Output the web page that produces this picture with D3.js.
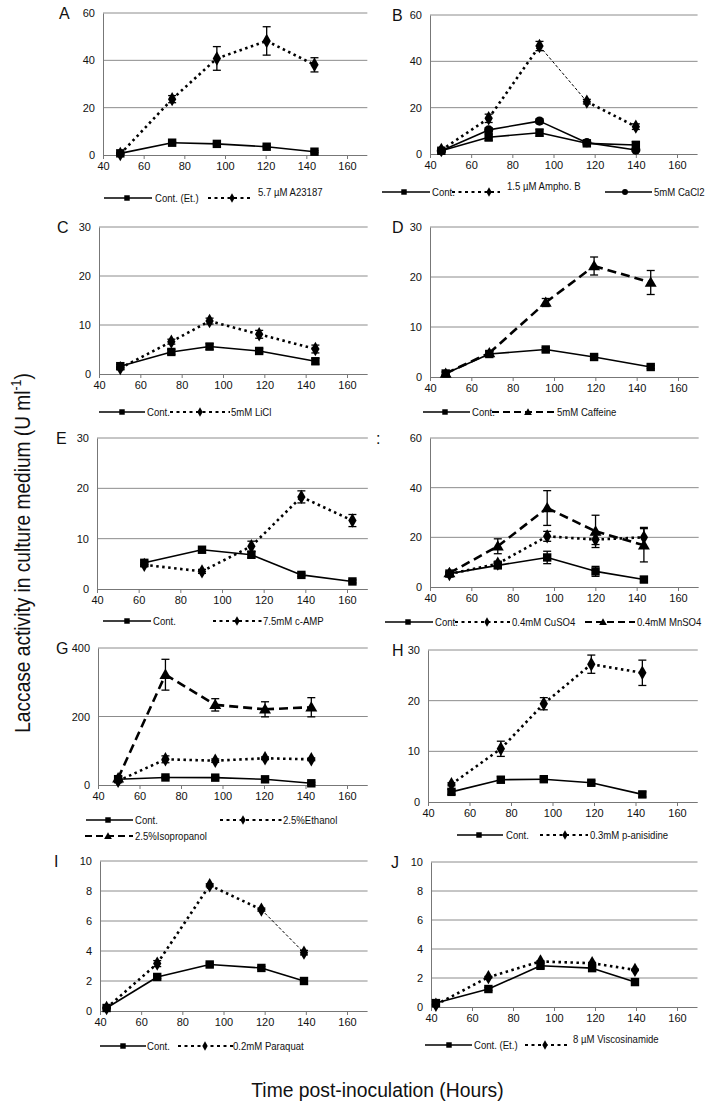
<!DOCTYPE html>
<html><head><meta charset="utf-8">
<script src="https://cdn.jsdelivr.net/npm/d3@7"></script>
<style>body{margin:0;background:#fff} svg{display:block}</style>
</head><body><svg id="c" width="713" height="1112"></svg>
<script>
// ---------- DATA ----------
const xTicks = [40, 60, 80, 100, 120, 140, 160];
const yTicks60 = [0, 20, 40, 60];
const yTicks30 = [0, 10, 20, 30];
const yTicks400 = [0, 200, 400];
const yTicks10 = [0, 2, 4, 6, 8, 10];

const hoursA = [48.5, 74, 96, 120.5, 144];
const A_cont = [0.7, 5.2, 4.7, 3.5, 1.4];
const A_cont_err = [0.3, 0.5, 0.5, 0.5, 0.4];
const A_a23187 = [0.4, 23.6, 40.8, 48.2, 38.1];
const A_a23187_err = [0.3, 1.5, 5, 6, 3];

const hoursB = [45.5, 68.5, 93.2, 116.2, 140];
const B_cont = [1.4, 7.2, 9.2, 4.6, 3.9];
const B_cont_err = [0.5, 1.5, 1.5, 1, 1.5];
const B_ampho = [1.7, 15.4, 46.6, 22.6, 11.8];
const B_ampho_err = [0.5, 1.8, 2, 1, 1.2];
const B_cacl2 = [1.4, 10.4, 14.2, 4.9, 1.7];
const B_cacl2_err = [0.5, 1, 1, 1, 0.5];

const hoursC = [50.3, 75, 93.5, 117.5, 144.7];
const C_cont = [1.6, 4.5, 5.6, 4.7, 2.6];
const C_cont_err = [0.3, 0.5, 0.6, 0.5, 0.6];
const C_licl = [1.2, 6.6, 10.8, 8.1, 5.1];
const C_licl_err = [0.3, 0.5, 0.6, 0.8, 0.8];

const hoursD = [47.6, 68.7, 96, 119.4, 146.8];
const D_cont = [0.7, 4.6, 5.5, 4.0, 2.0];
const D_cont_err = [0.3, 0.4, 0.4, 0.4, 0.3];
const D_caffeine = [0.7, 4.8, 14.9, 22.2, 18.9];
const D_caffeine_err = [0.3, 0.4, 0.8, 1.8, 2.4];

const hoursE = [62.7, 90.4, 114.1, 138.1, 162.6];
const E_cont = [5.2, 7.8, 6.8, 2.8, 1.5];
const E_cont_err = [0.4, 0.4, 0.6, 0.3, 0.3];
const E_camp = [4.8, 3.5, 8.5, 18.3, 13.6];
const E_camp_err = [0.4, 0.4, 1.0, 1.2, 1.2];

const hoursF = [49.4, 72.8, 96.7, 120.1, 143.5];
const F_cont = [5.4, 8.7, 11.9, 6.3, 3.0];
const F_cont_err = [0.6, 1, 2.5, 2, 1];
const F_cuso4 = [5.2, 9.4, 20.4, 19.1, 20.0];
const F_cuso4_err = [0.5, 1, 2, 2, 4];
const F_mnso4 = [5.6, 16.4, 31.8, 22.4, 16.8];
const F_mnso4_err = [0.5, 3, 7, 6.5, 6.7];

const hoursG = [49.7, 72.5, 96.5, 120.5, 142.8];
const G_cont = [17, 22, 21.5, 16.6, 5];
const G_cont_err = [3, 3, 3, 3, 3];
const G_ethanol = [12, 75, 71, 78, 75];
const G_ethanol_err = [3, 10, 5, 4, 4];
const G_isoprop = [20, 322, 234, 221, 227];
const G_isoprop_err = [5, 45, 18, 22, 28];

const hoursH = [51.3, 75.1, 95.8, 118.7, 143.3];
const H_cont = [2.0, 4.4, 4.5, 3.8, 1.5];
const H_cont_err = [0.5, 0.6, 0.4, 0.4, 0.5];
const H_anis = [3.5, 10.5, 19.4, 27.2, 25.5];
const H_anis_err = [0.3, 1.5, 1.2, 1.8, 2.5];

const hoursI = [43.2, 67.8, 93.3, 118.4, 139.1];
const I_cont = [0.2, 2.27, 3.1, 2.87, 2.0];
const I_cont_err = [0.05, 0.1, 0.1, 0.1, 0.05];
const I_paraquat = [0.2, 3.16, 8.38, 6.76, 3.89];
const I_paraquat_err = [0.05, 0.2, 0.1, 0.1, 0.15];

const hoursJ = [42.4, 68, 93.4, 118.6, 139.5];
const J_cont = [0.27, 1.24, 2.84, 2.68, 1.72];
const J_cont_err = [0.1, 0.1, 0.15, 0.15, 0.15];
const J_visco = [0.16, 2.06, 3.14, 3.02, 2.56];
const J_visco_err = [0.05, 0.05, 0.05, 0.05, 0.05];

// ---------- LAYOUT ----------
const panels = [
 {letter:"A", lx:59, x0:103, x160:347, yTop:13, yBot:155, yMax:60, ticks:yTicks60, hours:hoursA,
  series:[{v:A_cont,e:A_cont_err,line:"solid",m:"square"},{v:A_a23187,e:A_a23187_err,line:"dotted",m:"diamond"}],
  legend:[{y:198,x1:104,x2:152,mx:127,tx:155,line:"solid",m:"square",t:"Cont. (Et.)"},
          {y:198,x1:208,x2:250,mx:232,tx:258,dy:-6,line:"dotted",m:"diamond",t:"5.7 \u00B5M A23187"}]},
 {letter:"B", lx:392, x0:430, x160:677, yTop:15, yBot:154, yMax:60, ticks:yTicks60, hours:hoursB,
  series:[{v:B_cont,e:B_cont_err,line:"solid",m:"square"},{v:B_cacl2,e:B_cacl2_err,line:"solid",m:"circle"},
          {v:B_ampho,e:B_ampho_err,line:"dotted",m:"diamond",thin:[2]}],
  legend:[{y:192,x1:382,x2:430,mx:404,tx:432,line:"solid",m:"square",t:"Cont."},
          {y:192,x1:452,x2:500,mx:489,tx:507,dy:-6,line:"dotted",m:"diamond",t:"1.5 \u00B5M Ampho. B"},
          {y:192,x1:605,x2:652,mx:625,tx:654,line:"solid",m:"circle",t:"5mM CaCl2"}]},
 {letter:"C", lx:57, x0:99, x160:347, yTop:227, yBot:374, yMax:30, ticks:yTicks30, hours:hoursC,
  series:[{v:C_cont,e:C_cont_err,line:"solid",m:"square"},{v:C_licl,e:C_licl_err,line:"dotted",m:"diamond"}],
  legend:[{y:412,x1:99,x2:145,mx:122,tx:147,line:"solid",m:"square",t:"Cont."},
          {y:412,x1:170,x2:230,mx:200,tx:231,line:"dotted",m:"diamond",t:"5mM LiCl"}]},
 {letter:"D", lx:392, x0:430, x160:678, yTop:227, yBot:377, yMax:30, ticks:yTicks30, hours:hoursD,
  series:[{v:D_cont,e:D_cont_err,line:"solid",m:"square"},{v:D_caffeine,e:D_caffeine_err,line:"dashed",m:"triangle"}],
  legend:[{y:412,x1:423,x2:470,mx:445,tx:472,line:"solid",m:"square",t:"Cont."},
          {y:412,x1:492,x2:555,mx:528,tx:557,line:"dashed",m:"triangle",t:"5mM Caffeine"}]},
 {letter:"E", lx:56, x0:97, x160:347, yTop:438, yBot:589, yMax:30, ticks:yTicks30, hours:hoursE,
  series:[{v:E_cont,e:E_cont_err,line:"solid",m:"square"},{v:E_camp,e:E_camp_err,line:"dotted",m:"diamond"}],
  legend:[{y:621,x1:103,x2:151,mx:127,tx:153,line:"solid",m:"square",t:"Cont."},
          {y:621,x1:213,x2:262,mx:237,tx:263,line:"dotted",m:"diamond",t:"7.5mM c-AMP"}]},
 {letter:":", lx:376, x0:430, x160:678, yTop:438, yBot:587, yMax:60, ticks:yTicks60, hours:hoursF,
  series:[{v:F_cont,e:F_cont_err,line:"solid",m:"square"},{v:F_cuso4,e:F_cuso4_err,line:"dotted",m:"diamond"},
          {v:F_mnso4,e:F_mnso4_err,line:"dashed",m:"triangle"}],
  legend:[{y:622,x1:385,x2:433,mx:408,tx:435,line:"solid",m:"square",t:"Cont."},
          {y:622,x1:455,x2:510,mx:487,tx:512,line:"dotted",m:"diamond",t:"0.4mM CuSO4"},
          {y:622,x1:585,x2:635,mx:603,tx:637,line:"dashed",m:"triangle",t:"0.4mM MnSO4"}]},
 {letter:"G", lx:56, x0:98, x160:347, yTop:648, yBot:785, yMax:400, ticks:yTicks400, hours:hoursG,
  series:[{v:G_cont,e:G_cont_err,line:"solid",m:"square"},{v:G_ethanol,e:G_ethanol_err,line:"dotted",m:"diamond"},
          {v:G_isoprop,e:G_isoprop_err,line:"dashed",m:"triangle"}],
  legend:[{y:820,x1:86,x2:133,mx:108,tx:135,line:"solid",m:"square",t:"Cont."},
          {y:820,x1:220,x2:282,mx:243,tx:283,line:"dotted",m:"diamond",t:"2.5%Ethanol"},
          {y:836,x1:85,x2:133,mx:108,tx:135,line:"dashed",m:"triangle",t:"2.5%Isopropanol"}]},
 {letter:"H", lx:392, x0:428, x160:677, yTop:650, yBot:802, yMax:30, ticks:yTicks30, hours:hoursH,
  series:[{v:H_cont,e:H_cont_err,line:"solid",m:"square"},{v:H_anis,e:H_anis_err,line:"dotted",m:"diamond"}],
  legend:[{y:835,x1:457,x2:503,mx:479,tx:506,line:"solid",m:"square",t:"Cont."},
          {y:835,x1:540,x2:588,mx:565,tx:590,line:"dotted",m:"diamond",t:"0.3mM p-anisidine"}]},
 {letter:"I", lx:54, x0:100, x160:347, yTop:861, yBot:1011, yMax:10, ticks:yTicks10, hours:hoursI,
  series:[{v:I_cont,e:I_cont_err,line:"solid",m:"square"},{v:I_paraquat,e:I_paraquat_err,line:"dotted",m:"diamond",thin:[3]}],
  legend:[{y:1046,x1:100,x2:146,mx:123,tx:147,line:"solid",m:"square",t:"Cont."},
          {y:1046,x1:178,x2:233,mx:205,tx:233,line:"dotted",m:"diamond",t:"0.2mM Paraquat"}]},
 {letter:"J", lx:391, x0:431, x160:677, yTop:862, yBot:1007, yMax:10, ticks:yTicks10, hours:hoursJ,
  series:[{v:J_cont,e:J_cont_err,line:"solid",m:"square"},{v:J_visco,e:J_visco_err,line:"dotted",m:"diamond"}],
  legend:[{y:1045,x1:425,x2:472,mx:449,tx:474,line:"solid",m:"square",t:"Cont. (Et.)"},
          {y:1045,x1:525,x2:568,mx:545,tx:573,dy:-6,line:"dotted",m:"diamond",t:"8 \u00B5M Viscosinamide"}]}
];

const FONT = "'Liberation Sans', Arial, sans-serif";
const lineStyles = {
  solid:{w:1.6, dash:null},
  dotted:{w:2.6, dash:"2.5,3.5"},
  dashed:{w:2.6, dash:"9,5"}
};

const svg = d3.select("#c");
svg.append("rect").attr("width",713).attr("height",1112).attr("fill","#fff");

function marker(g, type, x, y, s) {
  s = s || 1;
  if (type === "square") {
    g.append("rect").attr("x", x-4.2*s).attr("y", y-4.2*s).attr("width", 8.4*s).attr("height", 8.4*s).attr("fill","#000");
  } else if (type === "diamond") {
    g.append("path").attr("d", d3.symbol(d3.symbolDiamond, 60*s*s)()).attr("transform",`translate(${x},${y})`).attr("fill","#000");
  } else if (type === "triangle") {
    g.append("path").attr("d", d3.symbol(d3.symbolTriangle, 62*s*s)()).attr("transform",`translate(${x},${y+0.8})`).attr("fill","#000");
  } else if (type === "circle") {
    g.append("circle").attr("cx", x).attr("cy", y).attr("r", 4.6*s).attr("fill","#000");
  }
}

panels.forEach(p => {
  const g = svg.append("g");
  const xs = d3.scaleLinear().domain([40,160]).range([p.x0, p.x160]);
  const xEnd = xs(170);
  const ys = d3.scaleLinear().domain([0,p.yMax]).range([p.yBot, p.yTop]);

  g.selectAll(".grid").data(p.ticks.filter(t=>t>0)).enter().append("line")
   .attr("x1", p.x0).attr("x2", xEnd).attr("y1", d=>ys(d)).attr("y2", d=>ys(d))
   .attr("stroke","#8c8c8c").attr("stroke-width",1);

  const xa = g.append("g").attr("transform",`translate(0,${p.yBot})`)
   .call(d3.axisBottom(xs).tickValues(xTicks).tickSize(4).tickPadding(3).tickSizeOuter(0));
  xa.select(".domain").attr("stroke","#777").attr("d",`M${p.x0},0.5H${xEnd}`);
  xa.selectAll(".tick line").attr("stroke","#777");
  xa.selectAll("text").attr("font-family",FONT).attr("font-size",11).attr("fill","#111");

  const ya = g.append("g").attr("transform",`translate(${p.x0},0)`)
   .call(d3.axisLeft(ys).tickValues(p.ticks).tickSize(0).tickPadding(8));
  ya.select(".domain").attr("stroke","#777");
  ya.selectAll("text").attr("font-family",FONT).attr("font-size",11).attr("fill","#111");

  g.append("text").attr("x",p.lx).attr("y",p.yTop+6).text(p.letter)
   .attr("font-family",FONT).attr("font-size",16).attr("fill","#111");

  p.series.forEach(s => {
    const pts = s.v.map((v,i)=>[xs(p.hours[i]), ys(v)]);
    const st = lineStyles[s.line];
    for (let i=0;i<pts.length-1;i++) {
      const thin = s.thin && s.thin.includes(i);
      g.append("line").attr("x1",pts[i][0]).attr("y1",pts[i][1]).attr("x2",pts[i+1][0]).attr("y2",pts[i+1][1])
       .attr("stroke","#000").attr("stroke-width", thin?1:st.w)
       .attr("stroke-dasharray", thin?"3,2":st.dash);
    }
    s.v.forEach((v,i)=>{
      const x = xs(p.hours[i]);
      const y1 = ys(v - s.e[i]), y2 = ys(v + s.e[i]);
      const eb = g.append("g").attr("stroke","#000").attr("stroke-width",1.3);
      eb.append("line").attr("x1",x).attr("x2",x).attr("y1",y1).attr("y2",y2);
      eb.append("line").attr("x1",x-4).attr("x2",x+4).attr("y1",y1).attr("y2",y1);
      eb.append("line").attr("x1",x-4).attr("x2",x+4).attr("y1",y2).attr("y2",y2);
    });
    pts.forEach(pt => marker(g, s.m, pt[0], pt[1]));
  });

  p.legend.forEach(l => {
    g.append("line").attr("x1",l.x1).attr("x2",l.x2).attr("y1",l.y).attr("y2",l.y)
     .attr("stroke","#000").attr("stroke-width", l.line==="solid"?1.4:1.8)
     .attr("stroke-dasharray", l.line==="dotted"?"3,3.5":(l.line==="dashed"?"7,4":null));
    marker(g, l.m, l.mx, l.y, 0.65);
    const t = g.append("text").attr("x",l.tx).attr("y",l.y+4+(l.dy||0)).text(l.t)
     .attr("font-family",FONT).attr("font-size",11).attr("fill","#111");
    const len = t.node().getComputedTextLength();
    t.attr("textLength", len*0.87).attr("lengthAdjust","spacingAndGlyphs");
  });
});

// axis titles (condensed to match the narrow typeface of the original)
svg.append("text").attr("transform","translate(30,553) rotate(-90) scale(0.87,1)").attr("text-anchor","middle")
 .attr("font-family",FONT).attr("font-size",22).attr("fill","#111")
 .html('Laccase activity in culture medium (U ml<tspan dy="-9" font-size="14">-1</tspan><tspan dy="9">)</tspan>');
svg.append("text").attr("transform","translate(377.5,1097) scale(0.92,1)").attr("text-anchor","middle")
 .attr("font-family",FONT).attr("font-size",21).attr("fill","#111")
 .text("Time post-inoculation (Hours)");
</script></body></html>
